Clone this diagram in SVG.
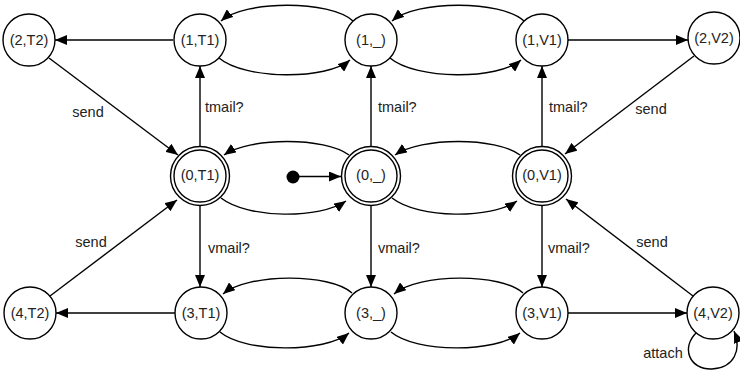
<svg xmlns="http://www.w3.org/2000/svg" width="740" height="374" viewBox="0 0 740 374">
  <defs>
    <marker id="arrow" markerUnits="userSpaceOnUse" markerWidth="13" markerHeight="10" refX="12" refY="5" orient="auto">
      <path d="M0,0 L12,5 L0,10 z" fill="#000"/>
    </marker>
    <style>
      .st { fill: #fff; stroke: #000; stroke-width: 1.4; }
      .in { fill: none; stroke: #000; stroke-width: 1.4; }
      .lbl { font-family: "Liberation Sans", Arial, sans-serif; font-size: 14.5px; fill: #222; text-anchor: middle; }
      .el { font-family: "Liberation Sans", Arial, sans-serif; font-size: 14.5px; fill: #222; }
      .edge { fill: none; stroke: #000; stroke-width: 1.4; marker-end: url(#arrow); }
    </style>
  </defs>
  <rect width="740" height="374" fill="#fff"/>

  <!-- transitions -->
  <g id="edges">
    <!-- straight transitions -->
    <path class="edge" d="M173,40 L55,40"/>
    <path class="edge" d="M568,40 L688,40"/>
    <path class="edge" d="M175,313 L56,313"/>
    <path class="edge" d="M568,313 L687,313"/>
    <path class="edge" d="M200,146 L200,66"/>
    <path class="edge" d="M371,146 L371,66"/>
    <path class="edge" d="M542,146 L542,66"/>
    <path class="edge" d="M200,206 L200,287"/>
    <path class="edge" d="M371,206 L371,287"/>
    <path class="edge" d="M542,206 L542,287"/>
    <path class="edge" d="M49,58 L178,155"/>
    <path class="edge" d="M694,56 L565,154"/>
    <path class="edge" d="M50,296 L177,200"/>
    <path class="edge" d="M693,296 L566,199"/>
    <!-- initial state -->
    <circle cx="293" cy="177" r="6.5" fill="#000"/>
    <path class="edge" d="M299,176.5 L341,176.5"/>
    <!-- row 1 arcs -->
    <path class="edge" d="M353,21 C330,0 245,0 221,21"/>
    <path class="edge" d="M219,58 C245,80 327,80 350,60"/>
    <path class="edge" d="M524,21 C501,0 416,0 392,21"/>
    <path class="edge" d="M390,58 C416,80 498,80 521,60"/>
    <!-- row 2 arcs -->
    <path class="edge" d="M349,155 C325,137 250,137 224,155"/>
    <path class="edge" d="M221,198 C248,219 320,219 346,201"/>
    <path class="edge" d="M520,155 C496,137 421,137 395,155"/>
    <path class="edge" d="M392,198 C419,219 491,219 517,201"/>
    <!-- row 3 arcs -->
    <path class="edge" d="M352,293 C330,273 248,273 223,294"/>
    <path class="edge" d="M220,332 C245,353 325,353 349,333"/>
    <path class="edge" d="M523,293 C501,273 419,273 394,294"/>
    <path class="edge" d="M391,332 C416,353 496,353 520,333"/>
    <!-- self loop -->
    <path class="edge" d="M697,332 C680,348 690,370 712,369 C734,368 742,350 734,331"/>
    <!-- edge labels -->
    <text class="lbl" x="88" y="117">send</text>
    <text class="el" x="205" y="112">tmail?</text>
    <text class="el" x="378" y="112">tmail?</text>
    <text class="el" x="549" y="112">tmail?</text>
    <text class="lbl" x="651" y="114">send</text>
    <text class="lbl" x="91" y="247">send</text>
    <text class="el" x="208" y="253">vmail?</text>
    <text class="el" x="378" y="253">vmail?</text>
    <text class="el" x="548" y="253">vmail?</text>
    <text class="lbl" x="652" y="247">send</text>
    <text class="lbl" x="663" y="358">attach</text>
  </g>

  <!-- states -->
  <g id="s2T2"><circle class="st" cx="29" cy="40" r="26"/><text class="lbl" x="29" y="44.5">(2,T2)</text></g>
  <g id="s1T1"><circle class="st" cx="200" cy="40" r="26"/><text class="lbl" x="200" y="44.5">(1,T1)</text></g>
  <g id="s1_"><circle class="st" cx="371" cy="40" r="26"/><text class="lbl" x="371" y="44.5">(1,_)</text></g>
  <g id="s1V1"><circle class="st" cx="542" cy="40" r="26"/><text class="lbl" x="542" y="44.5">(1,V1)</text></g>
  <g id="s2V2"><circle class="st" cx="714" cy="38" r="26"/><text class="lbl" x="714" y="42.5">(2,V2)</text></g>

  <g id="s0T1"><circle class="st" cx="200" cy="176" r="29.5"/><circle class="in" cx="200" cy="176" r="26"/><text class="lbl" x="200" y="180">(0,T1)</text></g>
  <g id="s0_"><circle class="st" cx="371" cy="176" r="29.5"/><circle class="in" cx="371" cy="176" r="26"/><text class="lbl" x="371" y="180">(0,_)</text></g>
  <g id="s0V1"><circle class="st" cx="542" cy="176" r="29.5"/><circle class="in" cx="542" cy="176" r="26"/><text class="lbl" x="542" y="180">(0,V1)</text></g>

  <g id="s4T2"><circle class="st" cx="30" cy="313" r="26"/><text class="lbl" x="30" y="317.5">(4,T2)</text></g>
  <g id="s3T1"><circle class="st" cx="201" cy="313" r="26"/><text class="lbl" x="201" y="317.5">(3,T1)</text></g>
  <g id="s3_"><circle class="st" cx="371" cy="313" r="26"/><text class="lbl" x="371" y="317.5">(3,_)</text></g>
  <g id="s3V1"><circle class="st" cx="542" cy="313" r="26"/><text class="lbl" x="542" y="317.5">(3,V1)</text></g>
  <g id="s4V2"><circle class="st" cx="713" cy="313" r="26"/><text class="lbl" x="713" y="317.5">(4,V2)</text></g>
</svg>
